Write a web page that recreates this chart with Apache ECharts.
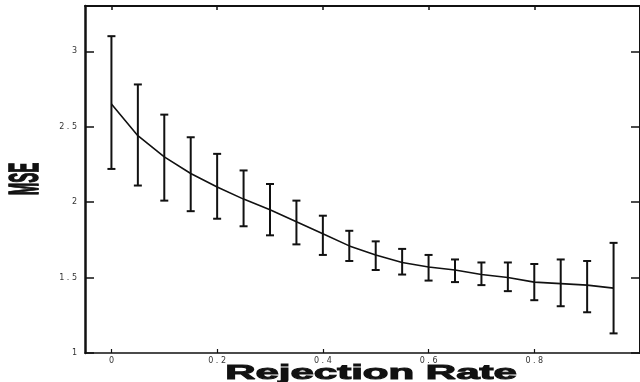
<!DOCTYPE html>
<html>
<head>
<meta charset="utf-8">
<script src="https://cdn.jsdelivr.net/npm/echarts@6/dist/echarts.min.js"></script>
<style>
  html, body { margin: 0; padding: 0; background: #fff; }
  #chart { width: 640px; height: 382px; }
</style>
</head>
<body>
<div id="chart"></div>
<script>
// Rejection rate (x) against mean squared error with error bars
const rates = [0, 0.05, 0.1, 0.15, 0.2, 0.25, 0.3, 0.35, 0.4, 0.45,
               0.5, 0.55, 0.6, 0.65, 0.7, 0.75, 0.8, 0.85, 0.9, 0.95];
const mse   = [2.65, 2.44, 2.30, 2.19, 2.10, 2.02, 1.95, 1.87, 1.79, 1.71,
               1.65, 1.60, 1.57, 1.55, 1.52, 1.50, 1.47, 1.46, 1.45, 1.43];
const upper = [3.10, 2.78, 2.58, 2.43, 2.32, 2.21, 2.12, 2.01, 1.91, 1.81,
               1.74, 1.69, 1.65, 1.62, 1.60, 1.60, 1.59, 1.62, 1.61, 1.73];
const lower = [2.22, 2.11, 2.01, 1.94, 1.89, 1.84, 1.78, 1.72, 1.65, 1.61,
               1.55, 1.52, 1.48, 1.47, 1.45, 1.41, 1.35, 1.31, 1.27, 1.13];
const xTicks = [0, 0.2, 0.4, 0.6, 0.8];
const yTicks = [1, 1.5, 2, 2.5, 3];

const ink = '#111';
const spaced = v => String(v).split('').join(' ');

const chart = echarts.init(document.getElementById('chart'), null, { renderer: 'canvas' });

const axisLineStyle = w => ({ show: true, onZero: false, lineStyle: { color: ink, width: w } });

chart.setOption({
  animation: false,
  backgroundColor: '#fff',
  grid: { left: 85, right: -6, top: 6, bottom: 29, containLabel: false },
  xAxis: [
    {
      type: 'value', position: 'bottom', min: -0.05, max: 1.0,
      axisLine: axisLineStyle(1.5),
      axisTick: { inside: true, length: 4, customValues: xTicks, lineStyle: { color: ink, width: 1.2 } },
      axisLabel: { customValues: xTicks, margin: 4, fontSize: 8, color: '#333',
                   fontFamily: 'DejaVu Sans', formatter: spaced },
      splitLine: { show: false }
    },
    {
      type: 'value', position: 'top', min: -0.05, max: 1.0,
      axisLine: axisLineStyle(2),
      axisTick: { inside: true, length: 4, customValues: xTicks, lineStyle: { color: ink, width: 1.5 } },
      axisLabel: { show: false },
      splitLine: { show: false }
    }
  ],
  yAxis: [
    {
      type: 'value', position: 'left', min: 1, max: 3.3,
      axisLine: axisLineStyle(2.5),
      axisTick: { inside: true, length: 9, customValues: yTicks, lineStyle: { color: ink, width: 1.5 } },
      axisLabel: { customValues: yTicks, margin: 8, fontSize: 8, color: '#333',
                   fontFamily: 'DejaVu Sans', formatter: spaced },
      splitLine: { show: false }
    },
    {
      type: 'value', position: 'right', min: 1, max: 3.3,
      axisLine: axisLineStyle(2),
      axisTick: { inside: true, length: 9, customValues: yTicks, lineStyle: { color: ink, width: 1.5 } },
      axisLabel: { show: false },
      splitLine: { show: false }
    }
  ],
  series: [
    {
      type: 'custom',
      data: rates.map((r, i) => [r, lower[i], upper[i]]),
      encode: { x: 0, y: [1, 2] },
      renderItem: (params, api) => {
        const x = api.value(0);
        const top = api.coord([x, api.value(2)]);
        const bot = api.coord([x, api.value(1)]);
        const w = 4;
        const st = { stroke: ink, lineWidth: 2 };
        return {
          type: 'group',
          children: [
            { type: 'line', shape: { x1: top[0], y1: top[1], x2: bot[0], y2: bot[1] }, style: st },
            { type: 'line', shape: { x1: top[0] - w, y1: top[1], x2: top[0] + w, y2: top[1] }, style: st },
            { type: 'line', shape: { x1: bot[0] - w, y1: bot[1], x2: bot[0] + w, y2: bot[1] }, style: st }
          ]
        };
      },
      z: 3
    },
    {
      type: 'line',
      data: rates.map((r, i) => [r, mse[i]]),
      symbol: 'none',
      lineStyle: { color: ink, width: 1.6 },
      z: 4
    }
  ],
  graphic: [
    {
      type: 'text',
      x: 371, y: 373,
      scaleX: 2.0, scaleY: 1.0,
      style: {
        text: 'Rejection Rate',
        font: 'bold 21px "Liberation Sans", Arial, sans-serif',
        fill: ink, stroke: ink, lineWidth: 1,
        textAlign: 'center', textVerticalAlign: 'middle'
      }
    },
    {
      type: 'text',
      x: 26, y: 179,
      rotation: Math.PI / 2,
      scaleX: 1.0, scaleY: 2.8,
      style: {
        text: 'MSE',
        font: 'bold 15px "Liberation Sans", Arial, sans-serif',
        fill: ink, stroke: ink, lineWidth: 0.6,
        textAlign: 'center', textVerticalAlign: 'middle'
      }
    }
  ]
});
</script>
</body>
</html>
